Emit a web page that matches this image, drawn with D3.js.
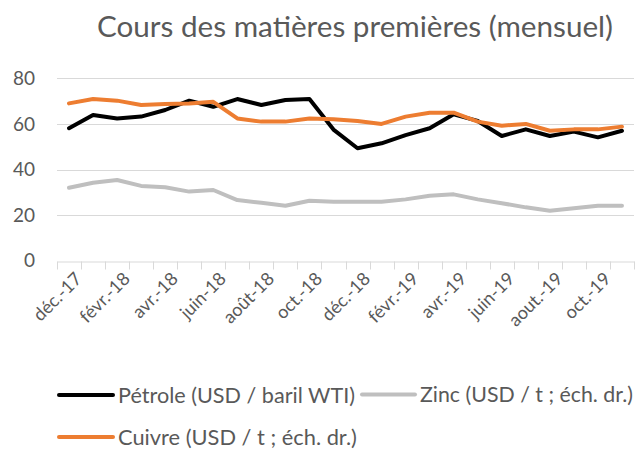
<!DOCTYPE html>
<html><head><meta charset="utf-8">
<script src="https://cdn.jsdelivr.net/npm/d3@7"></script>
<style>
html,body{margin:0;padding:0;background:#fff;}
svg{display:block;}
text{font-family:Lato, "Open Sans", sans-serif;fill:#595959;}
</style></head>
<body>
<svg id="c" width="640" height="449"></svg>
<script>
const months = ["déc.-17","janv.-18","févr.-18","mars-18","avr.-18","mai-18","juin-18","juil.-18","août-18","sept.-18","oct.-18","nov.-18","déc.-18","janv.-19","févr.-19","mars-19","avr.-19","mai-19","juin-19","juil.-19","aout.-19","sept.-19","oct.-19","nov.-19"];
const petrole = [58.1,63.9,62.4,63.2,66.1,70.2,67.5,70.9,68.3,70.5,70.9,57.5,49.3,51.5,55.1,58.1,64.2,61.3,54.7,57.6,54.7,56.6,54.1,57.0];
const zinc    = [32.0,34.2,35.4,32.8,32.2,30.3,31.0,26.6,25.4,24.1,26.3,25.9,25.9,25.9,26.9,28.5,29.1,26.9,25.2,23.4,21.9,23.0,24.1,24.1];
const cuivre  = [69.0,70.9,70.2,68.3,68.7,69.0,69.7,62.4,61.0,61.0,62.4,62.0,61.3,60.0,63.2,64.9,64.9,61.0,59.2,60.0,57.0,57.6,57.6,58.8];
const yTicks = [0,20,40,60,80];
const title = "Cours des matières premières (mensuel)";
const seriesNames = ["Pétrole (USD / baril WTI)","Zinc (USD / t ; éch. dr.)","Cuivre (USD / t ; éch. dr.)"];
const seriesColors = ["#000000","#bfbfbf","#ed7d31"];

const svg = d3.select("#c");
const x = d3.scaleBand().domain(months).range([57, 634]).padding(0);
const y = d3.scaleLinear().domain([0, 80]).range([260.7, 78.3]);

function fit(sel, target){
  const n = sel.node();
  const fs = parseFloat(sel.attr("font-size"));
  const w = n.getComputedTextLength();
  sel.attr("font-size", (fs * target / w).toFixed(2));
}

// title
const t = svg.append("text").attr("x", 355).attr("y", 37).attr("text-anchor","middle")
  .attr("font-size", 24).text(title);
fit(t, 516);

// gridlines
svg.append("g").selectAll("line").data(yTicks.filter(d=>d>0)).join("line")
  .attr("x1", 57).attr("x2", 634)
  .attr("y1", d=>Math.round(y(d))+0.5).attr("y2", d=>Math.round(y(d))+0.5)
  .attr("stroke", "#d9d9d9").attr("stroke-width", 1);

// y axis labels
svg.append("g").selectAll("text").data(yTicks).join("text")
  .attr("x", 35).attr("y", d=>y(d)).attr("dy","0.35em").attr("text-anchor","end")
  .attr("font-size", 19).text(d=>d);

// x axis
const xAxis = d3.axisBottom(x).tickSize(0).tickFormat("");
const gx = svg.append("g").attr("transform", `translate(0,${Math.round(y(0))+0.5})`).call(xAxis);
gx.select(".domain").attr("stroke","#d9d9d9").attr("stroke-width",1);
const bounds = months.map(m=>x(m)).concat([634]);
gx.selectAll(".tk").data(bounds).join("line").attr("class","tk")
  .attr("x1", d=>Math.round(d)+0.5).attr("x2", d=>Math.round(d)+0.5)
  .attr("y1", 0).attr("y2", 8).attr("stroke","#d9d9d9");

const shown = months.filter((m,i)=>i%2===0);
svg.append("g").selectAll("text").data(shown).join("text")
  .attr("text-anchor","end").attr("font-size", 18)
  .attr("transform", d=>`translate(${x(d)+x.bandwidth()/2+5},${271}) rotate(-45)`)
  .attr("dy","0.7em").text(d=>d);

// lines
const line = d3.line().x((d,i)=>x(months[i])+x.bandwidth()/2).y(d=>y(d));
const allSeries = [petrole, zinc, cuivre];
svg.append("g").selectAll("path").data(allSeries).join("path")
  .attr("d", d=>line(d)).attr("fill","none")
  .attr("stroke", (d,i)=>seriesColors[i]).attr("stroke-width", 4)
  .attr("stroke-linejoin","round").attr("stroke-linecap","round");

// legend
const legendPos = [
  {x1:59, x2:113, y:395, tx:118, w:237},
  {x1:362, x2:415, y:394.5, tx:420, w:213},
  {x1:59, x2:113, y:437, tx:118, w:239}
];
const lg = svg.append("g");
legendPos.forEach((p,i)=>{
  lg.append("line").attr("x1",p.x1).attr("x2",p.x2).attr("y1",p.y).attr("y2",p.y)
    .attr("stroke",seriesColors[i]).attr("stroke-width",4).attr("stroke-linecap","round");
  const tt = lg.append("text").attr("x",p.tx).attr("y",p.y).attr("dy","0.35em")
    .attr("font-size",18).text(seriesNames[i]);
  fit(tt, p.w);
});
</script>
</body></html>
